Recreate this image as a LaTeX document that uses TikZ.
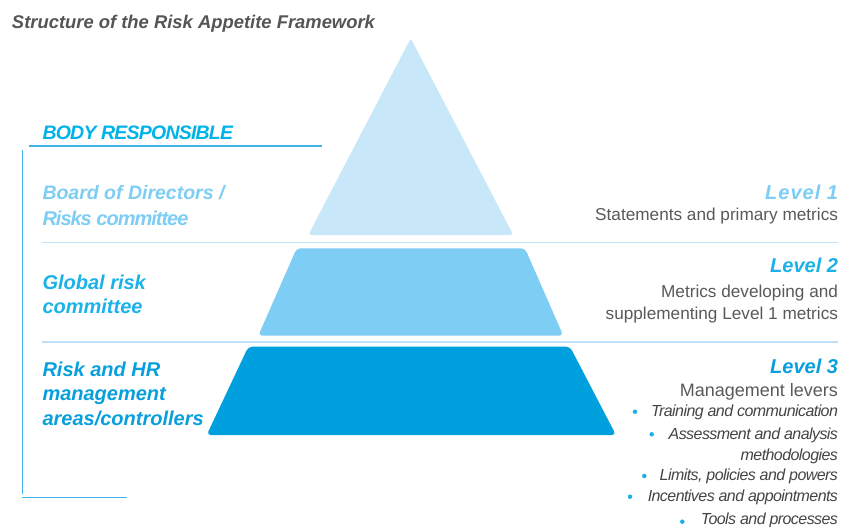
\documentclass[tikz,border=0pt]{standalone}
\usepackage{fontspec}
\setmainfont{Liberation Sans}
\definecolor{pyrA}{HTML}{C8E7F9}
\definecolor{pyrB}{HTML}{7DCDF4}
\definecolor{pyrC}{HTML}{00A0DF}
\definecolor{sepline}{HTML}{BEE3F8}
\definecolor{frameblue}{HTML}{3DB5E6}
\definecolor{titlegray}{HTML}{555555}
\definecolor{descgray}{HTML}{595959}
\definecolor{itemgray}{HTML}{444444}
\definecolor{lvlA}{HTML}{7DCDF4}
\definecolor{lvlB}{HTML}{1AB2E8}
\definecolor{lvlC}{HTML}{079FDC}
\definecolor{headblue}{HTML}{00B2EA}
\begin{document}
\begin{tikzpicture}[x=1pt,y=-1pt,
  txt/.style={inner sep=0pt, outer sep=0pt},
  lefttext/.style={txt, anchor=base west, font={\fontsize{20}{24}\selectfont\bfseries\itshape}},
  leftcond/.style={txt, anchor=base west, font={\fontsize{20}{24}\selectfont\bfseries\itshape\addfontfeature{LetterSpace=-5}}},
  levelhead/.style={txt, anchor=base east, font={\fontsize{20}{24}\selectfont\bfseries\itshape}},
  desc/.style={txt, anchor=base east, text=descgray, font={\fontsize{17.2}{20}\selectfont}},
  item/.style={txt, anchor=base east, text=itemgray, font={\fontsize{16}{18}\selectfont\itshape\addfontfeature{LetterSpace=-3.5}}},
  bulletdot/.style={circle, fill=lvlB, inner sep=0pt, minimum size=4.5pt},
  sep/.style={sepline, line width=1.6pt},
  frame/.style={frameblue, line width=1.3pt}
]
\useasboundingbox (0,0) rectangle (843,527);

% title
\node[txt, anchor=base west, text=titlegray, font={\fontsize{18.4}{22}\selectfont\bfseries\itshape}] (title) at (12,29) {Structure of the Risk Appetite Framework};

% frame lines
\coordinate (ulA) at (29,145.7);
\coordinate (ulB) at (322,145.7);
\draw[frame, line width=1.6pt] (ulA) -- (ulB);
\coordinate (vtop) at (22.3,150);
\coordinate (vbot) at (22.3,494);
\coordinate (hbotA) at (21.6,497.3);
\coordinate (hbotB) at (127,497.3);
\draw[frame] (vtop) -- (vbot);
\draw[frame] (hbotA) -- (hbotB);

% separator lines
\coordinate (s1a) at (42,242.3);
\coordinate (s1b) at (838,242.3);
\coordinate (s2a) at (42,341.7);
\coordinate (s2b) at (838,341.7);
\draw[sep] (s1a) -- (s1b);
\draw[sep] (s2a) -- (s2b);

% pyramid
\fill[pyrA, rounded corners=3pt] (410.7,38.3) -- (513.3,235) -- (308.3,235) -- cycle;
\fill[pyrB, rounded corners=4pt] (296.7,248.3) -- (525,248.3) -- (563.3,335.7) -- (258.3,335.7) -- cycle;
\fill[pyrC, rounded corners=4pt] (248.3,346.7) -- (570,346.7) -- (616,435) -- (206.7,435) -- cycle;

% left texts
\node[leftcond, text=headblue, font={\fontsize{19.5}{24}\selectfont\bfseries\itshape\addfontfeature{LetterSpace=-4}}] (body) at (42.5,139) {BODY RESPONSIBLE};
\node[lefttext, text=lvlA, font={\fontsize{19.5}{24}\selectfont\bfseries\itshape}] (board1) at (42.5,199) {Board of Directors /};
\node[leftcond, text=lvlA] (board2) at (42.5,225.5) {Risks committee};
\node[lefttext, text=lvlB] (glob1) at (42.5,289.3) {Global risk};
\node[lefttext, text=lvlB] (glob2) at (42.5,313.3) {committee};
\node[lefttext, text=lvlC] (risk1) at (42.5,376.7) {Risk and HR};
\node[lefttext, text=lvlC] (risk2) at (42.5,400.7) {management};
\node[lefttext, text=lvlC] (risk3) at (42.5,425) {areas/controllers};

% right texts
\node[levelhead, text=lvlA, font={\fontsize{20}{24}\selectfont\bfseries\itshape\addfontfeature{LetterSpace=5}}] (lv1) at (838,199.3) {Level 1};
\node[desc] (lv1d) at (838,220) {Statements and primary metrics};
\node[levelhead, text=lvlB] (lv2) at (838,272.3) {Level 2};
\node[desc] (lv2d1) at (838,297.3) {Metrics developing and};
\node[desc] (lv2d2) at (838,319) {supplementing Level 1 metrics};
\node[levelhead, text=lvlC] (lv3) at (838,373.3) {Level 3};
\node[desc, font={\fontsize{18}{22}\selectfont}] (lv3d) at (838,396) {Management levers};
\node[item] (it1) at (838,416) {Training and communication};
\node[item] (it2) at (838,439.3) {Assessment and analysis};
\node[item] (it2b) at (838,460.5) {methodologies};
\node[item] (it3) at (838,480.7) {Limits, policies and powers};
\node[item] (it4) at (838,501.7) {Incentives and appointments};
\node[item] (it5) at (838,524) {Tools and processes};

\node[bulletdot] (bu1) at (635,411.7) {};
\node[bulletdot] (bu2) at (651.7,434.3) {};
\node[bulletdot] (bu3) at (644.3,476) {};
\node[bulletdot] (bu4) at (630,496.7) {};
\node[bulletdot] (bu5) at (682.3,521.7) {};
\end{tikzpicture}
\end{document}
